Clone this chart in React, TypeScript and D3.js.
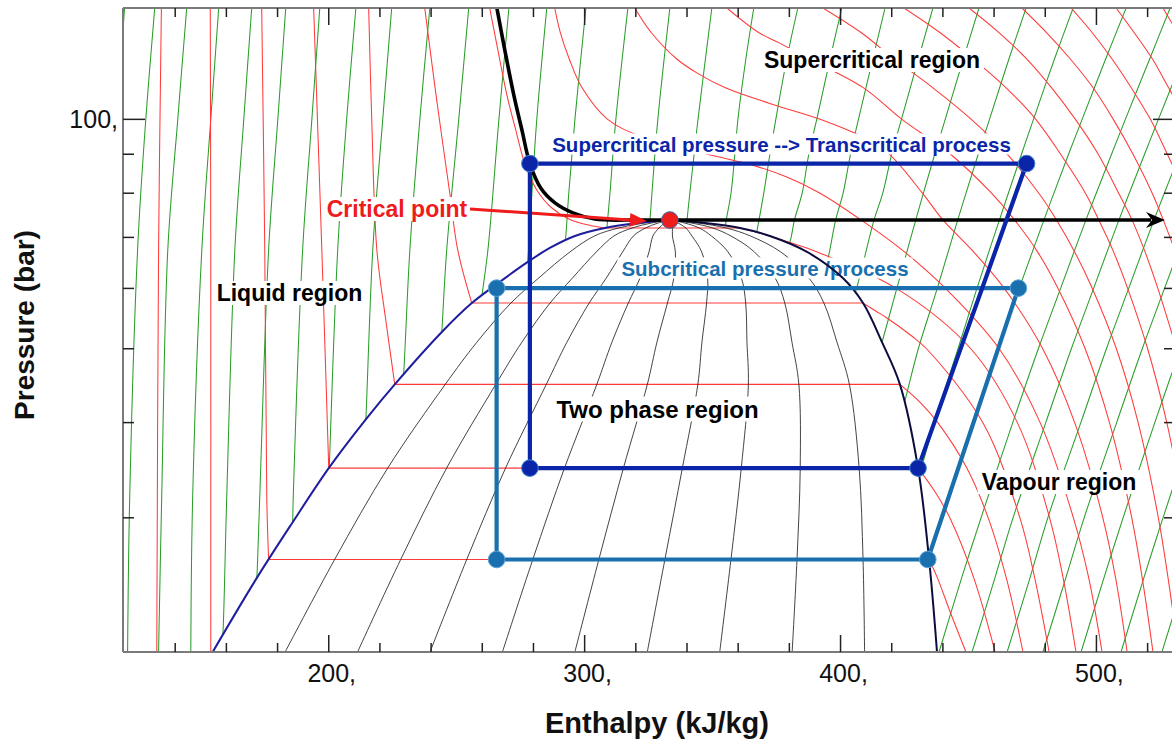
import React, { useLayoutEffect, useRef, useState } from "react";
import * as d3 from "d3";

type Pt = [number, number]; // [enthalpy kJ/kg, pressure bar]

const WIDTH = 1172;
const HEIGHT = 742;
const PLOT = { left: 123, right: 1175, top: 8, bottom: 652 };
const FONT = "'Liberation Sans', Arial, Helvetica, sans-serif";

// ---- axes ----
const enthalpyDomain: [number, number] = [119.6, 530.7];
const pressureDomain: [number, number] = [20, 140];
const enthalpyMajorTicks = [200, 300, 400, 500];
const enthalpyMinorTicks = [140, 160, 180, 220, 240, 260, 280, 320, 340, 360, 380, 420, 440, 460, 480, 520];
const pressureMajorTicks = [100];
const pressureMinorTicks = [30, 40, 50, 60, 70, 80, 90];

// ---- CO2 critical point ----
const criticalPoint: Pt = [333.3, 73.77];

// ---- saturation dome ----
const satLiquid: Pt[] = [
  [154.65, 20], [171.85, 25.0], [185.9, 29.6], [200.0, 34.86], [214.5, 40.4], [225.8, 44.9],
  [244.2, 52.6], [255.9, 57.4], [266.85, 61.2], [277.8, 65.0], [286.4, 67.8], [296.2, 70.3],
  [307.9, 72.0], [320.8, 73.1], [333.3, 73.77],
];
const satVapour: Pt[] = [
  [437.7, 20], [434.6, 26.45], [430.3, 34.86], [423.2, 44.9], [416.2, 51.0], [408.8, 57.4],
  [400.9, 61.9], [386.9, 67.0], [372.4, 70.3], [360.7, 72.0], [347.0, 73.1], [333.3, 73.77],
];

// ---- constant quality lines x = 0.1 ... 0.9 ----
const qualityPressures = [20, 26.45, 34.86, 44.9, 51.0, 57.4, 61.9, 67.0, 70.3, 72.0, 73.1, 73.77];
const qualityEnthalpies: number[][] = [
  [182.96, 202.31, 223.03, 245.54, 257.89, 271.19, 282.01, 294.29, 303.82, 313.18, 323.42, 333.3],
  [211.26, 228.12, 246.06, 265.28, 275.48, 286.48, 295.22, 304.58, 311.44, 318.46, 326.04, 333.3],
  [239.57, 253.93, 269.09, 285.02, 293.07, 301.77, 308.43, 314.87, 319.06, 323.74, 328.66, 333.3],
  [267.87, 279.74, 292.12, 304.76, 310.66, 317.06, 321.64, 325.16, 326.68, 329.02, 331.28, 333.3],
  [296.18, 305.55, 315.15, 324.5, 328.25, 332.35, 334.85, 335.45, 334.3, 334.3, 333.9, 333.3],
  [324.48, 331.36, 338.18, 344.24, 345.84, 347.64, 348.06, 345.74, 341.92, 339.58, 336.52, 333.3],
  [352.79, 357.17, 361.21, 363.98, 363.43, 362.93, 361.27, 356.03, 349.54, 344.86, 339.14, 333.3],
  [381.09, 382.98, 384.24, 383.72, 381.02, 378.22, 374.48, 366.32, 357.16, 350.14, 341.76, 333.3],
  [409.4, 408.79, 407.27, 403.46, 398.61, 393.51, 387.69, 376.61, 364.78, 355.42, 344.38, 333.3],
];

// ---- isotherms, °C ----
const isothermTemps = [-30, -20, -10, 0, 10, 20, 30, 40, 50, 60, 70, 80, 90, 100, 110, 120, 130];
// compressed-liquid branch, ending on the liquid saturation line
const isothermLiquidSide: Pt[][] = [
  [[134.6, 140], [133.5, 67.4], [132.8, 20]],
  [[153.7, 140], [153.9, 67.4], [153.9, 20]],
  [[173.8, 140], [175.0, 67.4], [175.8, 31.65], [176.5, 26.45]],
  [[194.1, 140], [197.3, 67.4], [200.0, 34.86]],
  [[215.6, 140], [216.8, 100], [218.8, 67.4], [222.3, 54.5], [225.8, 44.9]],
  [[237.5, 140], [242.2, 106], [247.3, 80], [250.4, 67.4], [255.9, 57.4]],
  [[262.9, 140], [266.1, 123.3], [269.6, 107.7], [273.1, 96.8], [276.6, 87.5], [281.3, 80.8],
   [287.2, 76.5], [294.2, 73.9], [302.0, 72.6], [307.9, 72.0]],
  [], [], [], [], [], [], [], [], [], [],
];
// superheated / supercritical branch
const isothermVapourSide: Pt[][] = [
  [],
  [],
  [[434.6, 26.45], [437.9, 25], [443.0, 22.5], [449.0, 20]],
  [[430.3, 34.86], [436.8, 32.5], [442.7, 30], [452.1, 25], [460.4, 20]],
  [[423.2, 44.9], [431.2, 42.5], [438.0, 40], [449.1, 35], [457.7, 30], [464.8, 25], [471.3, 20]],
  [[408.8, 57.4], [413.9, 56], [417.7, 55], [427.7, 52], [433.6, 50], [455.6, 40], [470.1, 30],
   [475.9, 25], [481.5, 20]],
  [[360.7, 72.0], [367.8, 71], [374.1, 70], [379.9, 69], [390.9, 67], [421.8, 60], [450.9, 50],
   [469.1, 40], [481.7, 30], [487.0, 25], [492.0, 20]],
  [[288.3, 140], [290.5, 130], [294, 120], [299, 110], [309, 100], [322, 95], [348, 90], [366, 87],
   [379, 84], [392, 80], [408, 73.8], [425, 67], [441, 60], [462, 50], [478, 40], [491, 30],
   [497, 25], [502.2, 20]],
  [[319.6, 140], [326, 130], [336, 120], [344, 115], [355, 110], [372, 105], [392, 100], [408, 95],
   [419, 90], [432, 80], [440, 73.8], [452, 67], [464, 60], [479, 50], [491.5, 40], [502.5, 30],
   [507.5, 25], [512, 20]],
  [[355.6, 140], [368, 130], [376, 126], [388, 120], [409, 110], [424, 100], [443, 90], [459, 80],
   [468, 73.8], [477, 67], [485, 60], [495.6, 50], [505.1, 40], [513.8, 30], [517.9, 25], [522.1, 20]],
  [[393.1, 140], [408, 130], [421, 120], [436.1, 110], [451.1, 100], [465.1, 90], [477.5, 80],
   [484.4, 73.8], [491.5, 67], [498.4, 60], [507.8, 50], [516.3, 40], [524.2, 30], [528, 25], [532, 20]],
  [[424.8, 140], [438.8, 130], [451.8, 120], [464.7, 110], [476.3, 100], [486, 90], [495.7, 80],
   [500.9, 73.8], [506.7, 67], [512.2, 60], [520, 50], [527.5, 40], [531, 35]],
  [[450.2, 140], [461.9, 130], [472.8, 120], [482.5, 110], [491.8, 100], [500.7, 90], [508.7, 80],
   [513.9, 73.8], [519, 67], [524, 60], [531.3, 50]],
  [[470.9, 140], [480.5, 130], [489.8, 120], [498.7, 110], [506.6, 100], [514.3, 90], [521.8, 80],
   [526.1, 73.8], [530.9, 67]],
  [[490.1, 140], [498.3, 130], [506.1, 120], [513.6, 110], [521.1, 100], [527.7, 90], [531.2, 85]],
  [[507.7, 140], [514.7, 130], [521.9, 120], [528.2, 110], [531.6, 105]],
  [[526.0, 140], [531.7, 130]],
];

// ---- isentropes, s = 0.65 ... 2.25 kJ/(kg K) in steps of 0.05 ----
const isentropes: Pt[][] = [
  [[120.2, 140], [118.8, 120]],
  [[132.0, 140], [128.5, 100], [125.3, 67.4], [122.2, 31.65], [121.4, 20]],
  [[144.5, 140], [141.0, 100], [137.1, 67.4], [134.7, 31.65], [133.5, 20]],
  [[157.0, 140], [153.9, 100], [150.4, 67.4], [146.8, 31.65], [146.1, 20]],
  [[169.9, 140], [166.8, 100], [163.3, 67.4], [160.1, 31.65], [158.6, 21], [158.0, 20]],
  [[183.2, 140], [180.1, 100], [176.5, 67.4], [173.0, 31.65], [171.9, 25], [171.2, 23]],
  [[196.5, 140], [193.4, 100], [189.8, 67.4], [186.1, 31.65], [185.9, 29.6], [185.2, 27]],
  [[210.6, 140], [207.0, 100], [203.5, 67.4], [200.2, 34.86], [199.8, 32]],
  [[224.6, 140], [221.1, 100], [217.2, 67.4], [214.5, 40.4], [214.0, 38]],
  [[239.5, 140], [235.6, 100], [231.7, 67.4], [229.3, 46.5], [228.5, 43]],
  [[254.7, 140], [250.8, 100], [246.1, 67.4], [244.2, 52.6], [243.8, 50]],
  [[270.4, 140], [266.5, 100], [262.2, 67.4], [259.8, 58.4], [259.0, 55]],
  [[285.2, 140], [281.3, 100], [279.4, 80], [277.8, 65], [277.3, 62]],
  [[300.5, 140], [296.2, 100], [293.8, 80], [292.6, 70], [291.8, 66]],
  [[316.9, 140], [312.2, 100], [309.9, 80], [308.7, 72], [308.2, 69]],
  [[333.3, 140], [328.6, 100], [326.3, 80], [325.5, 73.5], [325.0, 70]],
  [[349.7, 140], [344.3, 100], [341.1, 80], [340.0, 73.6], [339.5, 70]],
  [[366.1, 140], [363.0, 120], [359.9, 100], [358.7, 90], [357.2, 80], [355.2, 73.3], [354.5, 70]],
  [[383.3, 140], [379.0, 120], [374.7, 100], [372.4, 90], [370.0, 80], [367.3, 71.3], [366.0, 68]],
  [[400.5, 140], [395.9, 120], [390.7, 100], [387.6, 90], [385.0, 80], [382.0, 73.8], [380.2, 69], [377.5, 66]],
  [[417.4, 140], [412.6, 120], [407.0, 100], [403.9, 90], [401.0, 80], [398.1, 73.8], [394.3, 64], [391.0, 60]],
  [[436.1, 140], [430.4, 120], [423.8, 100], [420.0, 90], [416.5, 80], [413.1, 73.8], [405.6, 59], [402.0, 55]],
  [[454.1, 140], [448.0, 120], [440.9, 100], [436.8, 90], [429.4, 73.8], [422.0, 60], [416.2, 51], [413.0, 47]],
  [[472.5, 140], [465.8, 120], [458.2, 100], [453.8, 90], [445.8, 73.8], [437.8, 60], [430.4, 50], [425.2, 42.8], [422.0, 39]],
  [[490.9, 140], [483.6, 120], [475.4, 100], [470.7, 90], [462.1, 73.8], [453.3, 60], [445.9, 50], [436.7, 40], [430.6, 33.8], [427.0, 30]],
  [[511.6, 140], [503.6, 120], [494.4, 100], [489.1, 90], [479.5, 73.8], [469.8, 60], [461.4, 50], [451.7, 40], [440.0, 30], [434.5, 26.45], [431.0, 23]],
  [[528.8, 140], [520.8, 120], [511.3, 100], [505.9, 90], [495.9, 73.8], [486.0, 60], [477.3, 50], [467.3, 40], [454.9, 30], [447.3, 25], [438.5, 20]],
  [[533.7, 120], [524.2, 100], [518.8, 90], [508.8, 73.8], [498.9, 60], [490.2, 50], [480.2, 40], [467.4, 30], [460.3, 25], [451.4, 20]],
  [[532.5, 90], [522.5, 73.8], [512.6, 60], [503.9, 50], [493.9, 40], [481.0, 30], [474.0, 25], [465.1, 20]],
  [[536.5, 73.8], [526.6, 60], [517.9, 50], [507.9, 40], [495.2, 30], [488.0, 25], [479.1, 20]],
  [[532.8, 50], [522.8, 40], [510.4, 30], [502.9, 25], [494.0, 20]],
  [[538.4, 40], [526.0, 30], [518.5, 25], [509.6, 20]],
  [[534.5, 25], [525.6, 20]],
];

// ---- boundary of the supercritical region (critical isotherm + critical isobar) ----
const supercriticalBoundary: Pt[] = [
  [265.7, 140], [268.8, 123.3], [272.3, 107.7], [275.5, 96.8], [278.6, 87.5], [282.9, 81.2],
  [288.4, 77.7], [295.4, 75.4], [304.0, 74.0], [315.7, 73.77],
];
const supercriticalBoundaryEnd: Pt = [526.8, 73.77];

// ---- refrigeration cycles ----
const transcriticalCycle: Pt[] = [[278.6, 87.5], [472.7, 87.5], [430.3, 34.86], [278.6, 34.86]];
const subcriticalCycle: Pt[] = [[265.6, 60.05], [469.5, 60.05], [434.1, 26.45], [265.6, 26.45]];

const COLORS = {
  isentrope: "#2a9d2a",
  isotherm: "#ff3a3a",
  quality: "#1a1a1a",
  liquidLine: "#1d1d9e",
  vapourLine: "#0c0c40",
  transcritical: "#0a25a8",
  transcriticalEdge: "#3f7fd0",
  subcritical: "#1a70ae",
  subcriticalEdge: "#5aa0d8",
  critical: "#ee1c1c",
  axis: "#7a7a7a",
};

function BoxedLabel(props: { x: number; y: number; text: string; size: number; color: string }) {
  const { x, y, text, size, color } = props;
  const ref = useRef<SVGTextElement>(null);
  const [box, setBox] = useState<{ x: number; y: number; w: number; h: number } | null>(null);
  useLayoutEffect(() => {
    if (ref.current) {
      const b = ref.current.getBBox();
      setBox({ x: b.x, y: b.y, w: b.width, h: b.height });
    }
  }, [text, size]);
  return (
    <g>
      {box && <rect x={box.x - 4} y={box.y + 1} width={box.w + 8} height={box.h - 2} fill="#ffffff" />}
      <text
        ref={ref}
        x={x}
        y={y}
        textAnchor="middle"
        dominantBaseline="central"
        fontSize={size}
        fontWeight="bold"
        fill={color}
        fontFamily={FONT}
      >
        {text}
      </text>
    </g>
  );
}

export default function App() {
  const x = d3.scaleLinear().domain(enthalpyDomain).range([PLOT.left, PLOT.right]);
  const y = d3.scaleLog().domain(pressureDomain).range([PLOT.bottom, PLOT.top]);

  const smooth = d3
    .line<Pt>()
    .x((d) => x(d[0]))
    .y((d) => y(d[1]))
    .curve(d3.curveCatmullRom.alpha(0.5));
  const straight = d3
    .line<Pt>()
    .x((d) => x(d[0]))
    .y((d) => y(d[1]));

  const domePoints: Pt[] = [...satLiquid, ...satVapour.slice(0, -1).reverse()];
  const domePath = (smooth(domePoints) || "") + "Z";
  const plotRect = `M${PLOT.left},${PLOT.top}H${PLOT.right}V${PLOT.bottom}H${PLOT.left}Z`;

  const [cx, cy] = [x(criticalPoint[0]), y(criticalPoint[1])];

  // arrow heads
  const endX = x(supercriticalBoundaryEnd[0]);
  const endY = y(supercriticalBoundaryEnd[1]);
  const boundaryHead = `M${endX},${endY}L${endX - 19},${endY - 8}L${endX - 13},${endY}L${endX - 19},${endY + 8}Z`;

  const arrowTail: [number, number] = [470, 209];
  const arrowTip: [number, number] = [cx - 23, cy + 1];
  const ang = Math.atan2(arrowTip[1] - arrowTail[1], arrowTip[0] - arrowTail[0]);
  const headLen = 17;
  const headHalf = 7;
  const bx = arrowTip[0] - headLen * Math.cos(ang);
  const by = arrowTip[1] - headLen * Math.sin(ang);
  const criticalHead = `M${arrowTip[0]},${arrowTip[1]}L${bx + headHalf * Math.sin(ang)},${by - headHalf * Math.cos(ang)}L${bx - headHalf * Math.sin(ang)},${by + headHalf * Math.cos(ang)}Z`;

  const cyclePath = (pts: Pt[]) => (straight(pts) || "") + "Z";

  return (
    <svg
      width={WIDTH}
      height={HEIGHT}
      viewBox={`0 0 ${WIDTH} ${HEIGHT}`}
      style={{ position: "absolute", left: 0, top: 0, background: "#ffffff" }}
    >
      <defs>
        <clipPath id="plotArea">
          <rect x={PLOT.left} y={PLOT.top} width={PLOT.right - PLOT.left} height={PLOT.bottom - PLOT.top} />
        </clipPath>
        <clipPath id="outsideDome">
          <path d={plotRect + domePath} clipRule="evenodd" />
        </clipPath>
      </defs>
      <rect x={0} y={0} width={WIDTH} height={HEIGHT} fill="#ffffff" />

      {/* isentropes, hidden inside the two-phase dome */}
      <g clipPath="url(#outsideDome)" fill="none" stroke={COLORS.isentrope} strokeWidth={1.05}>
        {isentropes.map((pts, i) => (
          <path key={`s${i}`} d={smooth(pts) || ""} />
        ))}
      </g>

      {/* isotherms */}
      <g clipPath="url(#plotArea)" fill="none" stroke={COLORS.isotherm} strokeWidth={1.05}>
        {isothermTemps.map((t, i) => {
          const liq = isothermLiquidSide[i];
          const vap = isothermVapourSide[i];
          return (
            <g key={`t${t}`}>
              {liq.length > 0 && <path d={smooth(liq) || ""} />}
              {liq.length > 0 && vap.length > 0 && (
                <path d={straight([liq[liq.length - 1], vap[0]]) || ""} />
              )}
              {vap.length > 0 && <path d={smooth(vap) || ""} />}
            </g>
          );
        })}
      </g>

      {/* constant quality lines */}
      <g clipPath="url(#plotArea)" fill="none" stroke={COLORS.quality} strokeWidth={0.9} opacity={0.9}>
        {qualityEnthalpies.map((row, i) => (
          <path key={`q${i}`} d={smooth(row.map((h, j) => [h, qualityPressures[j]] as Pt)) || ""} />
        ))}
      </g>

      {/* region labels */}
      <BoxedLabel x={872} y={60} text="Supercritical region" size={23} color="#000000" />
      <BoxedLabel x={289.5} y={293} text="Liquid region" size={23} color="#000000" />
      <BoxedLabel x={657.5} y={409} text="Two phase region" size={24} color="#000000" />
      <BoxedLabel x={1059} y={482} text="Vapour region" size={23} color="#000000" />
      <BoxedLabel
        x={781.5}
        y={144}
        text="Supercritical pressure --> Transcritical process"
        size={20.5}
        color={COLORS.transcritical}
      />
      <BoxedLabel x={765} y={268} text="Subcritical pressure /process" size={20.5} color={COLORS.subcritical} />
      <BoxedLabel x={397} y={209} text="Critical point" size={23} color={COLORS.critical} />

      {/* saturation dome */}
      <g clipPath="url(#plotArea)" fill="none" strokeWidth={2}>
        <path d={smooth(satLiquid) || ""} stroke={COLORS.liquidLine} />
        <path d={smooth(satVapour) || ""} stroke={COLORS.vapourLine} />
      </g>

      {/* supercritical boundary */}
      <path
        d={(smooth(supercriticalBoundary) || "") + `L${endX - 14},${endY}`}
        fill="none"
        stroke="#000000"
        strokeWidth={3.6}
        clipPath="url(#plotArea)"
      />
      <path d={boundaryHead} fill="#000000" />

      {/* critical point annotation arrow */}
      <line
        x1={arrowTail[0]}
        y1={arrowTail[1]}
        x2={bx}
        y2={by}
        stroke={COLORS.critical}
        strokeWidth={3}
      />
      <path d={criticalHead} fill={COLORS.critical} />

      {/* cycles */}
      <path d={cyclePath(subcriticalCycle)} fill="none" stroke={COLORS.subcritical} strokeWidth={4.2} strokeLinejoin="round" />
      <path d={cyclePath(transcriticalCycle)} fill="none" stroke={COLORS.transcritical} strokeWidth={4.2} strokeLinejoin="round" />
      {subcriticalCycle.map((p, i) => (
        <circle key={`sc${i}`} cx={x(p[0])} cy={y(p[1])} r={8.3} fill={COLORS.subcritical} stroke={COLORS.subcriticalEdge} strokeWidth={1} />
      ))}
      {transcriticalCycle.map((p, i) => (
        <circle key={`tc${i}`} cx={x(p[0])} cy={y(p[1])} r={8.3} fill={COLORS.transcritical} stroke={COLORS.transcriticalEdge} strokeWidth={1} />
      ))}
      <circle cx={cx} cy={cy} r={8.3} fill={COLORS.critical} stroke="#2a66b0" strokeWidth={1} />

      {/* frame */}
      <g stroke={COLORS.axis} strokeWidth={2} fill="none">
        <line x1={PLOT.left} y1={PLOT.top} x2={PLOT.right} y2={PLOT.top} />
        <line x1={PLOT.left} y1={PLOT.bottom} x2={PLOT.right} y2={PLOT.bottom} />
        <line x1={PLOT.left} y1={PLOT.top} x2={PLOT.left} y2={PLOT.bottom} />
        <line x1={PLOT.right} y1={PLOT.top} x2={PLOT.right} y2={PLOT.bottom} />
      </g>

      {/* ticks */}
      <g stroke="#222222" strokeWidth={1.5}>
        {enthalpyMajorTicks.map((h) => (
          <g key={`hM${h}`}>
            <line x1={x(h)} x2={x(h)} y1={PLOT.bottom} y2={PLOT.bottom - 17} />
            <line x1={x(h)} x2={x(h)} y1={PLOT.top} y2={PLOT.top + 17} />
          </g>
        ))}
        {enthalpyMinorTicks.map((h) => (
          <g key={`hm${h}`}>
            <line x1={x(h)} x2={x(h)} y1={PLOT.bottom} y2={PLOT.bottom - 9} />
            <line x1={x(h)} x2={x(h)} y1={PLOT.top} y2={PLOT.top + 9} />
          </g>
        ))}
        {pressureMajorTicks.map((p) => (
          <g key={`pM${p}`}>
            <line x1={PLOT.left} x2={PLOT.left + 22} y1={y(p)} y2={y(p)} />
            <line x1={PLOT.right} x2={PLOT.right - 22} y1={y(p)} y2={y(p)} />
          </g>
        ))}
        {pressureMinorTicks.map((p) => (
          <g key={`pm${p}`}>
            <line x1={PLOT.left} x2={PLOT.left + 11} y1={y(p)} y2={y(p)} />
            <line x1={PLOT.right} x2={PLOT.right - 11} y1={y(p)} y2={y(p)} />
          </g>
        ))}
      </g>

      {/* tick labels */}
      <g fontFamily={FONT} fontSize={25} fill="#111111">
        {enthalpyMajorTicks.map((h) => (
          <text key={`hl${h}`} x={x(h) + 3} y={682} textAnchor="middle">
            {`${h},`}
          </text>
        ))}
        {pressureMajorTicks.map((p) => (
          <text key={`pl${p}`} x={118} y={y(p) + 9} textAnchor="end">
            {`${p},`}
          </text>
        ))}
      </g>

      {/* axis titles */}
      <text x={657} y={733} textAnchor="middle" fontFamily={FONT} fontWeight="bold" fontSize={29} fill="#111111">
        Enthalpy (kJ/kg)
      </text>
      <text
        x={0}
        y={0}
        transform={`translate(34, 325) rotate(-90)`}
        textAnchor="middle"
        fontFamily={FONT}
        fontWeight="bold"
        fontSize={28}
        fill="#111111"
      >
        Pressure (bar)
      </text>
    </svg>
  );
}
